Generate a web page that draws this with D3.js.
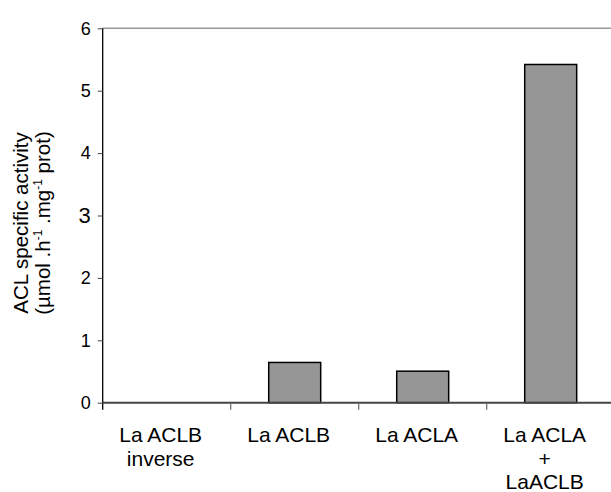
<!DOCTYPE html>
<html>
<head>
<meta charset="utf-8">
<script src="https://cdn.jsdelivr.net/npm/d3@7"></script>
<style>
  html, body { margin: 0; padding: 0; background: #fff; }
  svg { display: block; font-family: "Liberation Sans", Arial, sans-serif; }
</style>
</head>
<body>
<svg id="chart" width="611" height="492"></svg>
<script>
// ACL specific activity per construct
const categories = [
  ["La ACLB", "inverse"],
  ["La ACLB"],
  ["La ACLA"],
  ["La ACLA", "+", "LaACLB"]
];
const activity = [0, 0.645, 0.505, 5.42];
const yTicks = [0, 1, 2, 3, 4, 5, 6];

const svg = d3.select("#chart");
const plotLeft = 102.7, plotTop = 28.3, plotBottom = 402.7;
const band = 128;

const x = d3.scaleBand()
  .domain(categories.map((c, i) => i))
  .range([plotLeft, plotLeft + band * categories.length])
  .padding(0);

const y = d3.scaleLinear().domain([0, 6]).range([plotBottom, plotTop]);

// light rule along the top of the plot
svg.append("line")
  .attr("x1", plotLeft).attr("x2", 611)
  .attr("y1", y(6)).attr("y2", y(6))
  .attr("stroke", "#9a9a9a").attr("stroke-width", 1.6);

// bars
const barW = x.bandwidth() * 0.406;
svg.append("g").selectAll("rect")
  .data(activity.map((v, i) => ({ i, v })).filter(d => d.v > 0))
  .join("rect")
  .attr("x", d => x(d.i) + (x.bandwidth() - barW) / 2)
  .attr("y", d => y(d.v))
  .attr("width", barW)
  .attr("height", d => y(0) - y(d.v))
  .attr("fill", "#969696")
  .attr("stroke", "#000")
  .attr("stroke-width", 1.5);

// y axis
const yAxis = svg.append("g")
  .attr("transform", `translate(${plotLeft},0)`)
  .call(d3.axisLeft(y).tickValues(yTicks).tickSize(5).tickPadding(7).tickFormat(d3.format("d")));
yAxis.attr("font-family", null).attr("font-size", null);
yAxis.select(".domain").attr("d", `M0,${plotTop}V${plotBottom + 7}`).attr("stroke", "#000").attr("stroke-width", 1.3);
yAxis.selectAll(".tick line").attr("stroke", "#444").attr("stroke-width", 1);
yAxis.selectAll(".tick text")
  .attr("fill", "#000")
  .attr("font-size", d => d === 3 ? 22 : 18);

// x axis: tick marks at category boundaries
const xAxisG = svg.append("g");
xAxisG.append("line")
  .attr("x1", plotLeft).attr("x2", 611)
  .attr("y1", plotBottom).attr("y2", plotBottom)
  .attr("stroke", "#444").attr("stroke-width", 2);
xAxisG.selectAll("line.tk")
  .data(categories.map((c, i) => i).slice(1))
  .join("line")
  .attr("class", "tk")
  .attr("x1", d => x(d)).attr("x2", d => x(d))
  .attr("y1", plotBottom).attr("y2", plotBottom + 7)
  .attr("stroke", "#666").attr("stroke-width", 1.2);

// category labels
const labels = svg.append("g").selectAll("text")
  .data(categories)
  .join("text")
  .attr("text-anchor", "middle")
  .attr("font-size", 21)
  .attr("fill", "#000");
labels.each(function (lines, i) {
  const t = d3.select(this);
  lines.forEach((s, k) => {
    t.append("tspan")
      .attr("x", x(i) + x.bandwidth() / 2 - 6)
      .attr("y", 442 + k * 23.5)
      .text(s);
  });
});

// y axis title
const title = svg.append("g")
  .attr("transform", "translate(0,223) rotate(-90)")
  .attr("font-size", 20.5)
  .attr("fill", "#000");
title.append("text")
  .attr("x", 0).attr("y", 28)
  .attr("text-anchor", "middle")
  .text("ACL specific activity");
const t2 = title.append("text")
  .attr("x", 0).attr("y", 50)
  .attr("text-anchor", "middle");
t2.append("tspan").text("(µmol .h");
t2.append("tspan").attr("font-size", 12).attr("dy", -8).text("-1");
t2.append("tspan").attr("dy", 8).text(" .mg");
t2.append("tspan").attr("font-size", 12).attr("dy", -8).text("-1");
t2.append("tspan").attr("dy", 8).text("  prot)");
</script>
</body>
</html>
